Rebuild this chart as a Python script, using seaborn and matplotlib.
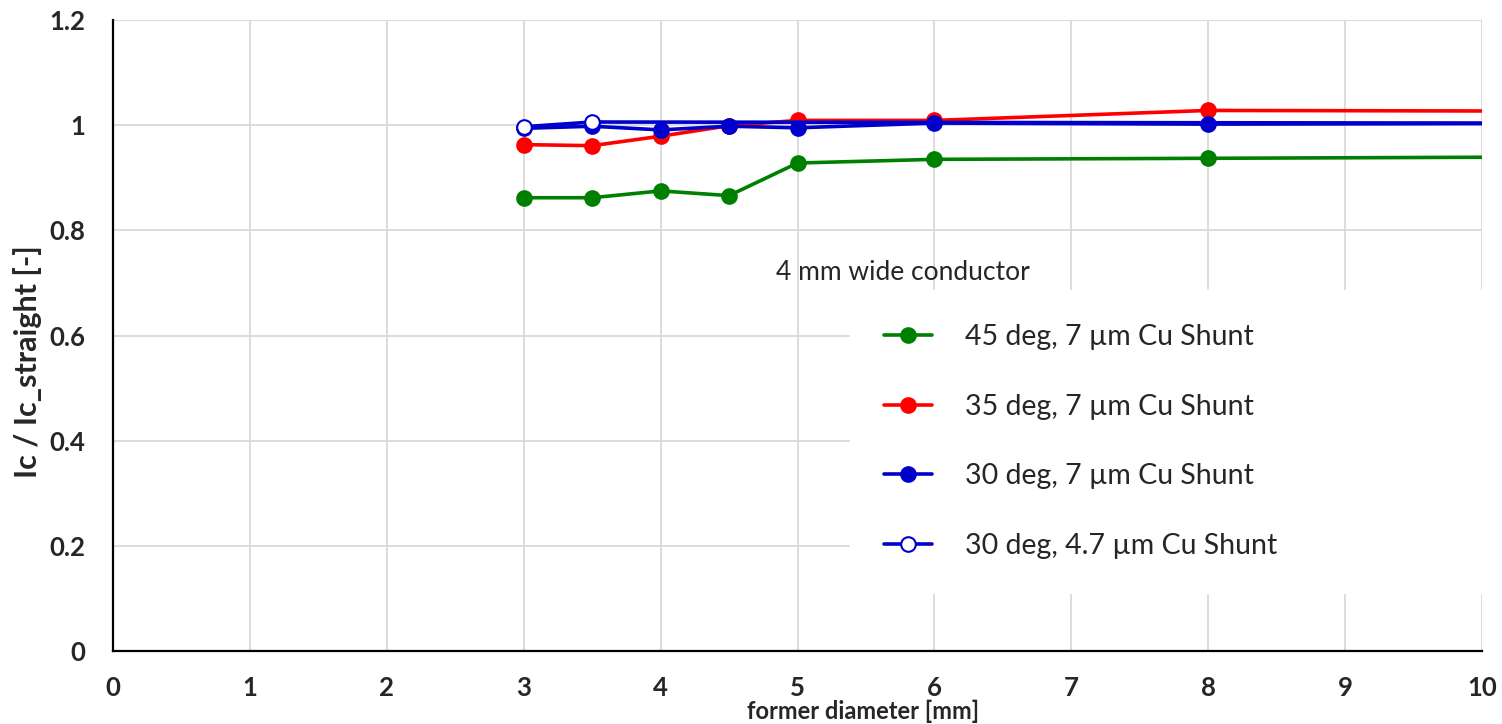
import pandas as pd
import seaborn as sns
import matplotlib.pyplot as plt

# data (x = 10 is the end of the line, no marker there)
diameter = [3, 3.5, 4, 4.5, 5, 6, 8, 10]
ic_45deg_7um = [0.862, 0.862, 0.875, 0.866, 0.928, 0.935, 0.937, 0.939]
ic_35deg_7um = [0.963, 0.961, 0.979, 0.999, 1.009, 1.009, 1.028, 1.027]
ic_30deg_7um = [0.994, 0.998, 0.991, 0.998, 0.995, 1.004, 1.002, 1.003]
diameter_47um = [3, 3.5, 10]
ic_30deg_47um = [0.997, 1.006, 1.004]

labels = ["45 deg, 7 µm Cu Shunt", "35 deg, 7 µm Cu Shunt",
          "30 deg, 7 µm Cu Shunt", "30 deg, 4.7 µm Cu Shunt"]

sns.set_style("white")
plt.rcParams['font.family'] = ['Lato', 'DejaVu Sans']

fig = plt.figure(figsize=(15.02, 7.24), dpi=100)
ax = fig.add_axes([113 / 1502, 73 / 724, 1369 / 1502, 631 / 724])

line_kw = dict(linewidth=2.6, marker='o', markersize=10.5, markeredgewidth=1.5)

sns.lineplot(x=diameter, y=ic_45deg_7um, color='#008000', markeredgecolor='#008000',
             markevery=list(range(7)), label=labels[0], ax=ax, **line_kw)
sns.lineplot(x=diameter, y=ic_35deg_7um, color='#ff0000', markeredgecolor='#ff0000',
             markevery=list(range(7)), label=labels[1], ax=ax, **line_kw)
sns.lineplot(x=diameter, y=ic_30deg_7um, color='#0000cc', markeredgecolor='#0000cc',
             markevery=list(range(7)), label=labels[2], ax=ax, **line_kw)
sns.lineplot(x=diameter_47um, y=ic_30deg_47um, color='#0000cc', markeredgecolor='#0000cc',
             markerfacecolor='white', markevery=[0, 1], label=labels[3], ax=ax, **line_kw)

ax.set_xlim(0, 10)
ax.set_ylim(0, 1.2)
ax.set_xticks(range(0, 11))
ax.set_yticks([0, 0.2, 0.4, 0.6, 0.8, 1.0, 1.2])
ax.set_yticklabels(['0', '0.2', '0.4', '0.6', '0.8', '1', '1.2'])
ax.grid(True, color='#d9d9d9', linewidth=1.3)
ax.set_axisbelow(True)
ax.tick_params(length=0, labelsize=18.5)
ax.tick_params(axis='x', pad=18)
ax.tick_params(axis='y', pad=20)
for t in ax.get_xticklabels() + ax.get_yticklabels():
    t.set_fontweight('bold')

for s in ['top', 'right']:
    ax.spines[s].set_visible(False)
for s in ['left', 'bottom']:
    ax.spines[s].set_color('black')
    ax.spines[s].set_linewidth(1.6)

ax.set_xlabel("former diameter [mm]", fontsize=17, fontweight='bold')
ax.xaxis.set_label_coords(0.548, -0.077)
ax.set_ylabel("Ic / Ic_straight [-]", fontsize=22, fontweight='bold')
ax.yaxis.set_label_coords(-0.052, 0.458)

ax.text(4.84, 0.719, "4 mm wide conductor", fontsize=19, ha='left', va='center')

leg = ax.legend(loc='upper left', bbox_to_anchor=(0.538, 0.572, 0.462, 0.0), mode='expand',
                fontsize=20.5, frameon=True, facecolor='white', edgecolor='white',
                framealpha=1, fancybox=False, handlelength=1.7, handletextpad=1.15,
                labelspacing=1.53, borderpad=1.2, borderaxespad=0)

fig.savefig("out.png", dpi=100)
